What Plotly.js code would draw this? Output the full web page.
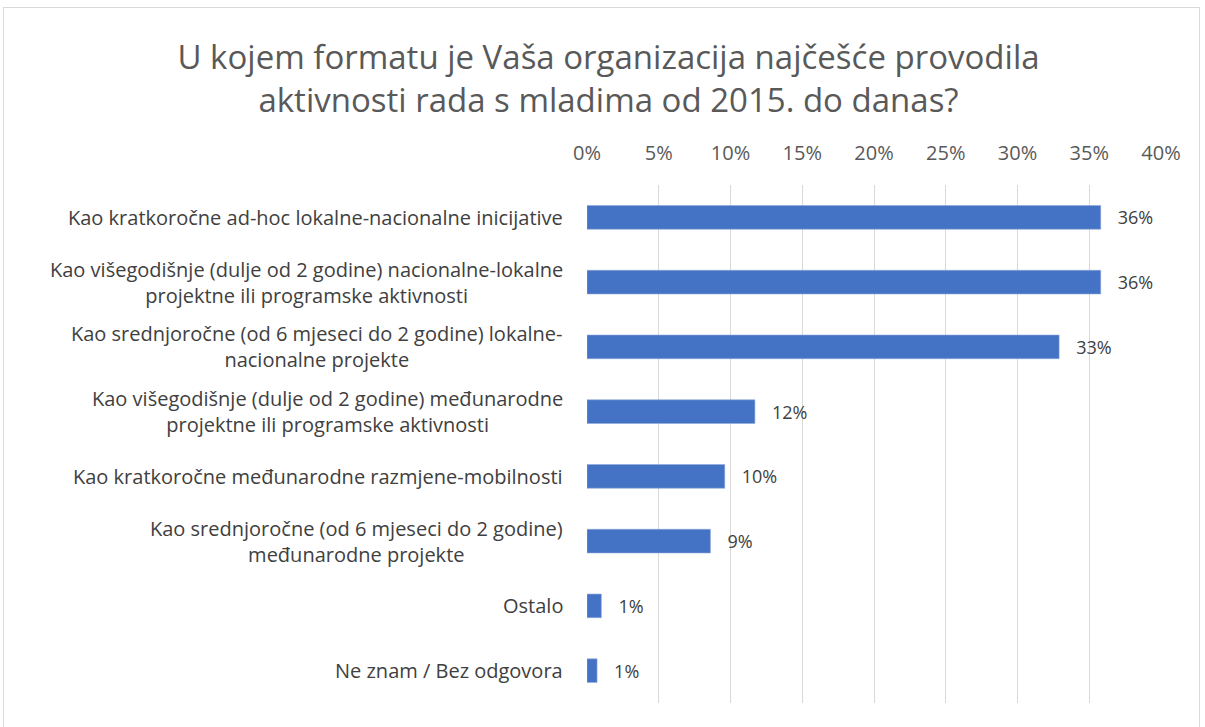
<!DOCTYPE html>
<html>
<head>
<meta charset="utf-8">
<script src="https://cdn.plot.ly/plotly-3.0.1.min.js"></script>
<style>
  html, body { margin: 0; padding: 0; background: #fff; }
  #chart { position: absolute; left: 0; top: 0; width: 1205px; height: 727px; }
  #frame { position: absolute; left: 3px; top: 7px; width: 1197px; height: 740px;
           border: 1px solid #d9d9d9; pointer-events: none; box-sizing: border-box; }
</style>
</head>
<body>
<div id="chart"></div>
<div id="frame"></div>
<script>
const titleText = "U kojem formatu je Vaša organizacija najčešće provodila<br>aktivnosti rada s mladima od 2015. do danas?";
const categories = [
  "Kao kratkoročne ad-hoc lokalne-nacionalne inicijative",
  "Kao višegodišnje (dulje od 2 godine) nacionalne-lokalne<br>projektne ili programske aktivnosti",
  "Kao srednjoročne (od 6 mjeseci do 2 godine) lokalne-<br>nacionalne projekte",
  "Kao višegodišnje (dulje od 2 godine) međunarodne<br>projektne ili programske aktivnosti",
  "Kao kratkoročne međunarodne razmjene-mobilnosti",
  "Kao srednjoročne (od 6 mjeseci do 2 godine)<br>međunarodne projekte",
  "Ostalo",
  "Ne znam / Bez odgovora"
];
const values = [0.358, 0.358, 0.329, 0.117, 0.096, 0.086, 0.010, 0.007];
const tickValues = [0, 0.05, 0.10, 0.15, 0.20, 0.25, 0.30, 0.35, 0.40];
const tickLabels = ["0%", "5%", "10%", "15%", "20%", "25%", "30%", "35%", "40%"];

const FONT = "'Open Sans', 'Noto Sans', sans-serif";
const gap = "\u00a0\u00a0\u00a0";

const trace = {
  type: "bar",
  orientation: "h",
  x: values,
  y: categories,
  marker: { color: "#4472C4", line: { color: "#8FAADC", width: 0.6 } },
  texttemplate: gap + "%{x:.0%}",
  textposition: "outside",
  textfont: { family: FONT, size: 18, color: "#404040" },
  constraintext: "none",
  cliponaxis: false,
  hoverinfo: "skip"
};

const annotations = categories.map(c => ({
  text: c,
  xref: "paper", x: 0, xanchor: "right", xshift: -22,
  yref: "y", y: c, yanchor: "middle",
  align: "center",
  showarrow: false,
  font: { family: FONT, size: 20, color: "#404040" }
}));

const layout = {
  width: 1205, height: 727,
  margin: { l: 587, r: 44, t: 185, b: 24 },
  paper_bgcolor: "#ffffff",
  plot_bgcolor: "#ffffff",
  showlegend: false,
  bargap: 0.634,
  title: {
    text: titleText,
    font: { family: FONT, size: 33, color: "#595959" },
    x: 0.505, xanchor: "center", xref: "container",
    y: 0.905, yanchor: "top", yref: "container"
  },
  xaxis: {
    side: "top",
    range: [0, 0.4],
    tickvals: tickValues,
    ticktext: tickLabels,
    showgrid: true,
    gridcolor: "#d9d9d9",
    gridwidth: 1,
    zeroline: false,
    showline: false,
    ticks: "",
    ticklabelstandoff: 20,
    tickfont: { family: FONT, size: 20, color: "#595959" },
    fixedrange: true
  },
  yaxis: {
    autorange: "reversed",
    showticklabels: false,
    showgrid: false,
    zeroline: false,
    showline: false,
    ticks: "",
    fixedrange: true
  },
  annotations: annotations
};

Plotly.newPlot("chart", [trace], layout, { displayModeBar: false, staticPlot: true });
</script>
</body>
</html>
